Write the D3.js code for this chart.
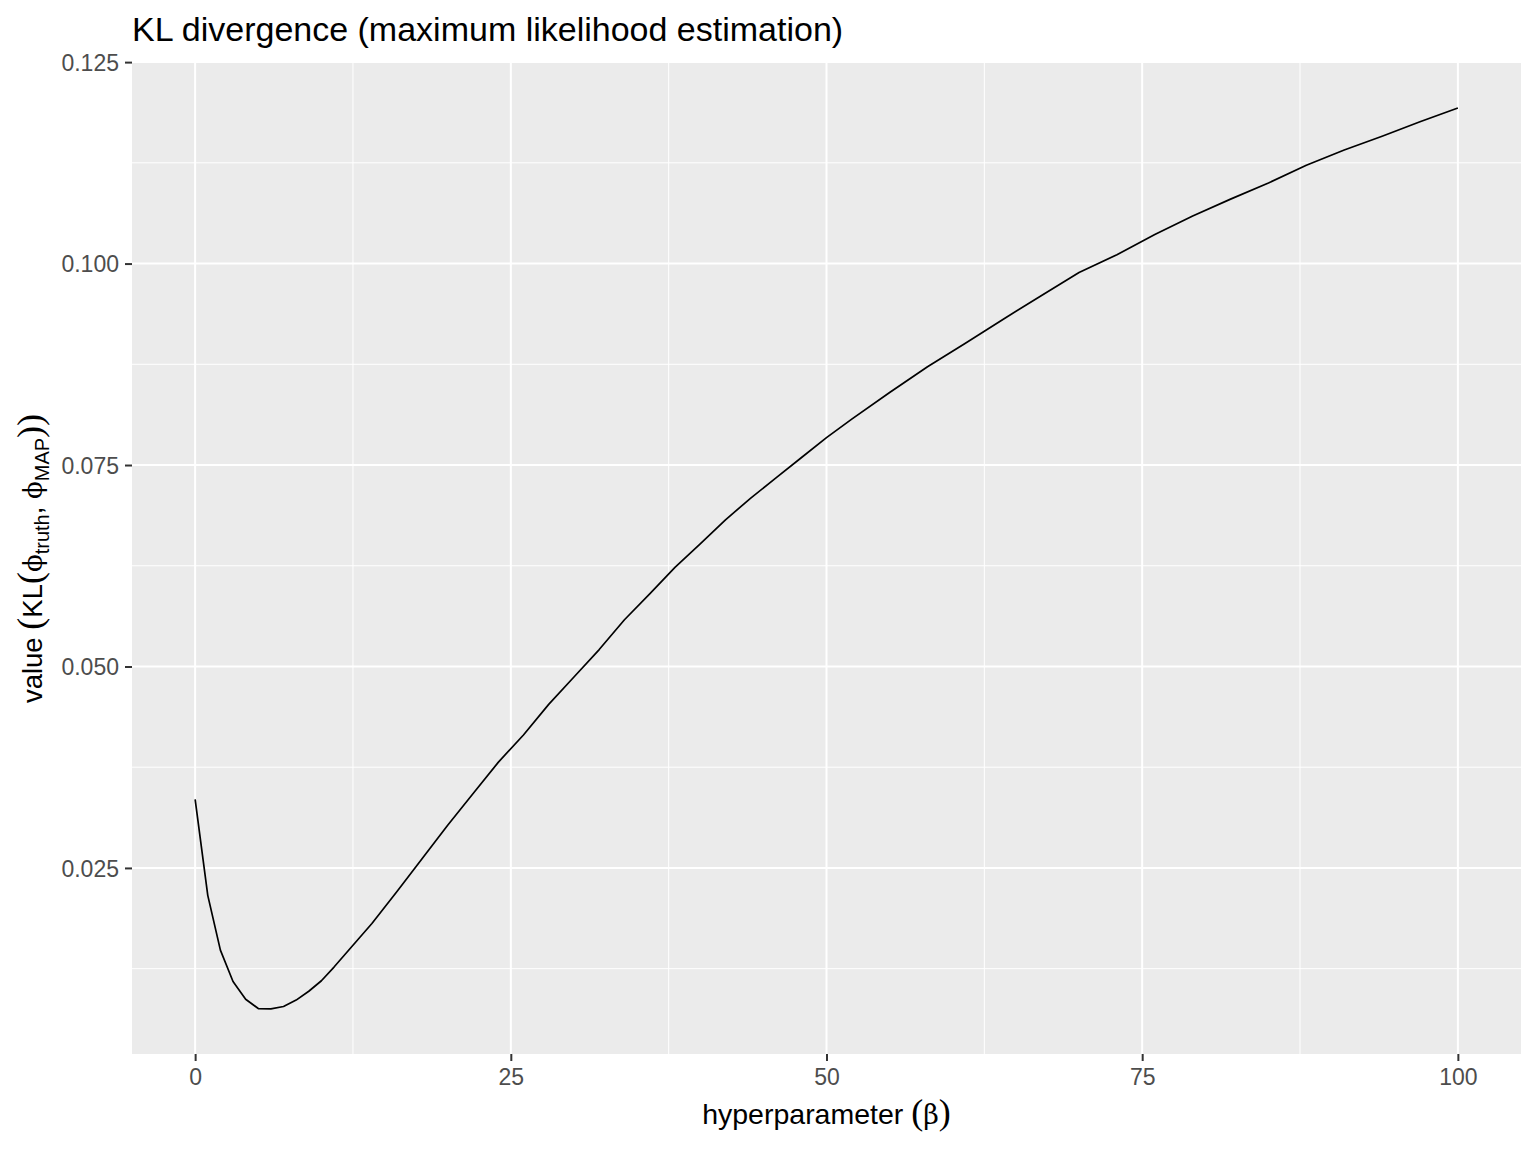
<!DOCTYPE html>
<html>
<head>
<meta charset="utf-8">
<script src="https://cdn.jsdelivr.net/npm/d3@7"></script>
<style>
  body { margin: 0; background: #fff; }
  text { font-family: "Liberation Sans", Arial, sans-serif; }
</style>
</head>
<body>
<div id="chart"></div>
<script>
// values
var beta = [0, 1, 2, 3, 4, 5, 6, 7, 8, 9, 10, 11, 12, 13, 14, 16, 18, 20, 22, 24,
            26, 28, 30, 32, 34, 36, 38, 40, 42, 44, 46, 48, 50, 52, 55, 58, 61, 64,
            67, 70, 73, 76, 79, 82, 85, 88, 91, 94, 97, 100];
var klValue = [0.0335, 0.0216, 0.0148, 0.0109, 0.0087, 0.00755, 0.0075, 0.0078, 0.0086, 0.0097,
               0.0110, 0.0127, 0.0145, 0.0163, 0.0181, 0.0221, 0.0262, 0.0303, 0.0342, 0.0381,
               0.0415, 0.0453, 0.0487, 0.0521, 0.0558, 0.0590, 0.0623, 0.0652, 0.0682, 0.0709,
               0.0734, 0.0759, 0.0784, 0.0807, 0.0840, 0.0872, 0.0901, 0.0931, 0.0960, 0.0989,
               0.1011, 0.1036, 0.1059, 0.1080, 0.1100, 0.1122, 0.1141, 0.1158, 0.1176, 0.1193];
var xTicks = [0, 25, 50, 75, 100];
var yTicks = [0.025, 0.050, 0.075, 0.100, 0.125];

var data = beta.map(function (b, i) { return { beta: b, kl: klValue[i] }; });

var width = 1536, height = 1152;
var margin = { top: 63, right: 15, bottom: 98, left: 132 };
var pw = width - margin.left - margin.right,
    ph = height - margin.top - margin.bottom;

var svg = d3.select("#chart").append("svg")
  .attr("width", width)
  .attr("height", height);

// ggplot style 5% expansion of the data range
function expand(ext) {
  var d = (ext[1] - ext[0]) * 0.05;
  return [ext[0] - d, ext[1] + d];
}
var x = d3.scaleLinear().domain(expand(d3.extent(beta))).range([0, pw]);
var y = d3.scaleLinear().domain(expand(d3.extent(klValue))).range([ph, 0]);

var g = svg.append("g").attr("transform", "translate(" + margin.left + "," + margin.top + ")");

// panel background
g.append("rect")
  .attr("width", pw).attr("height", ph)
  .attr("fill", "#EBEBEB");

// minor grid (midpoints between major ticks)
var xMinor = d3.range(-12.5, 112.6, 25).filter(function (v) { return x(v) >= 0 && x(v) <= pw; });
var yMinor = d3.range(0.0125, 0.13, 0.025).filter(function (v) { return y(v) >= 0 && y(v) <= ph; });

g.selectAll(".xminor").data(xMinor).enter().append("line")
  .attr("x1", x).attr("x2", x).attr("y1", 0).attr("y2", ph)
  .attr("stroke", "#fff").attr("stroke-width", 1);
g.selectAll(".yminor").data(yMinor).enter().append("line")
  .attr("y1", y).attr("y2", y).attr("x1", 0).attr("x2", pw)
  .attr("stroke", "#fff").attr("stroke-width", 1);

// major grid
g.selectAll(".xmajor").data(xTicks).enter().append("line")
  .attr("x1", x).attr("x2", x).attr("y1", 0).attr("y2", ph)
  .attr("stroke", "#fff").attr("stroke-width", 2);
g.selectAll(".ymajor").data(yTicks.filter(function (v) { return y(v) >= -1; })).enter().append("line")
  .attr("y1", y).attr("y2", y).attr("x1", 0).attr("x2", pw)
  .attr("stroke", "#fff").attr("stroke-width", 2);

// the curve
var line = d3.line()
  .x(function (d) { return x(d.beta); })
  .y(function (d) { return y(d.kl); });

g.append("path")
  .datum(data)
  .attr("d", line)
  .attr("fill", "none")
  .attr("stroke", "#000")
  .attr("stroke-width", 1.7)
  .attr("stroke-linejoin", "round");

// axes
var xAxis = g.append("g")
  .attr("transform", "translate(0," + ph + ")")
  .call(d3.axisBottom(x).tickValues(xTicks).tickSize(7).tickPadding(8).tickFormat(d3.format("d")));
var yAxis = g.append("g")
  .call(d3.axisLeft(y).tickValues(yTicks).tickSize(7).tickPadding(6).tickFormat(d3.format(".3f")));

[xAxis, yAxis].forEach(function (a) {
  a.select(".domain").remove();
  a.selectAll(".tick line").attr("stroke", "#333").attr("stroke-width", 2);
  a.selectAll(".tick text")
    .attr("fill", "#4D4D4D")
    .style("font-size", "23px")
    .style("font-family", "'Liberation Sans', Arial, sans-serif");
});
yAxis.selectAll(".tick text").attr("dy", "0.36em");

// title
svg.append("text")
  .attr("x", margin.left)
  .attr("y", 41)
  .style("font-size", "34px")
  .attr("fill", "#000")
  .text("KL divergence (maximum likelihood estimation)");

// x axis title: hyperparameter (β)
var xt = svg.append("text")
  .attr("x", margin.left + pw / 2)
  .attr("y", 1124)
  .attr("text-anchor", "middle")
  .style("font-size", "28.5px")
  .attr("fill", "#000");
xt.append("tspan").text("hyperparameter ");
xt.append("tspan").style("font-family", "'Liberation Serif', serif").style("font-size", "36px").text("(");
xt.append("tspan").style("font-family", "'DejaVu Serif', serif").style("font-size", "27px").text("β");
xt.append("tspan").style("font-family", "'Liberation Serif', serif").style("font-size", "36px").text(")");

// y axis title: value (KL(ϕ_truth, ϕ_MAP))
var yt = svg.append("text")
  .attr("transform", "translate(42," + (margin.top + ph / 2) + ") rotate(-90)")
  .attr("text-anchor", "middle")
  .style("font-size", "27.5px")
  .attr("fill", "#000");
var paren = function (s) {
  yt.append("tspan").style("font-family", "'Liberation Serif', serif").style("font-size", "36px").text(s);
};
var phi = function () {
  yt.append("tspan").style("font-family", "'DejaVu Serif', serif").style("font-size", "26px").text("\u03D5");
};
var sub = function (s) {
  yt.append("tspan").attr("dy", 7).style("font-size", "20px").text(s);
};
yt.append("tspan").text("value ");
paren("(");
yt.append("tspan").text("KL");
paren("(");
phi();
sub("truth");
yt.append("tspan").attr("dy", -7).text(", ");
phi();
sub("MAP");
yt.append("tspan").attr("dy", -7).style("font-family", "'Liberation Serif', serif").style("font-size", "36px").text(")");
paren(")");
</script>
</body>
</html>
